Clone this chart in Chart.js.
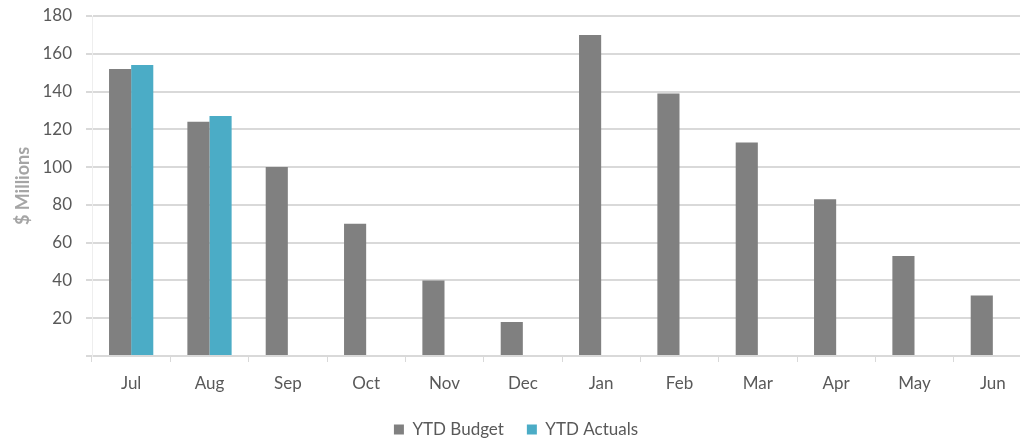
<!DOCTYPE html>
<html>
<head>
<meta charset="utf-8">
<script src="https://cdn.jsdelivr.net/npm/chart.js@4"></script>
<style>
    html, body { margin: 0; padding: 0; background: #fff; overflow: hidden; }
    #wrap { width: 1040px; height: 442px; }
</style>
</head>
<body>
<div id="wrap"><canvas id="budget-chart" width="1040" height="442"></canvas></div>
<script>
const months = ["Jul", "Aug", "Sep", "Oct", "Nov", "Dec", "Jan", "Feb", "Mar", "Apr", "May", "Jun"];
const ytdBudget = [152, 124, 100, 70, 40, 18, 170, 139, 113, 83, 53, 32];
const ytdActuals = [154, 127, null, null, null, null, null, null, null, null, null, null];
const yTicks = [0, 20, 40, 60, 80, 100, 120, 140, 160, 180];

const textGray = "#595959";
const gridGray = "#d9d9d9";
const font = "Lato, 'Open Sans', sans-serif";

const ctx = document.getElementById("budget-chart").getContext("2d");
new Chart(ctx, {
    type: "bar",
    data: {
        labels: months,
        datasets: [
            {
                label: "YTD Budget",
                data: ytdBudget,
                backgroundColor: "#808080",
            },
            {
                label: "YTD Actuals",
                data: ytdActuals,
                backgroundColor: "#4bacc6",
            },
        ],
    },
    options: {
        responsive: false,
        animation: false,
        categoryPercentage: 0.565,
        barPercentage: 1,
        layout: { padding: { top: 16, right: 8, left: 0, bottom: -6 } },
        plugins: {
            tooltip: { enabled: false },
            legend: {
                position: "bottom",
                labels: {
                    boxWidth: 10,
                    boxHeight: 10,
                    color: textGray,
                    padding: 23,
                    font: { family: font, size: 17 },
                },
            },
        },
        scales: {
            x: {
                grid: { offset: true, drawOnChartArea: false, color: gridGray, tickLength: 6 },
                border: { color: gridGray },
                ticks: { color: textGray, padding: 11, font: { family: font, size: 17 } },
                afterFit: (scale) => { scale.height = 42; },
            },
            y: {
                min: yTicks[0],
                max: yTicks[yTicks.length - 1],
                afterBuildTicks: (scale) => { scale.ticks = yTicks.map((v) => ({ value: v })); },
                grid: { color: gridGray, tickLength: 6, lineWidth: 2 },
                border: { color: "#eeeeee" },
                ticks: {
                    color: textGray,
                    padding: 14,
                    font: { family: font, size: 17 },
                    callback: (v) => (v === 0 ? "" : v),
                },
                title: {
                    display: true,
                    text: "$ Millions",
                    color: "#a5a5a5",
                    padding: { top: 12, bottom: 0 },
                    font: { family: font, size: 18, weight: "bold" },
                },
                afterFit: (scale) => {
                    scale.width = 92;
                    scale.paddingTop = 0;
                    scale.paddingBottom = 0;
                },
            },
        },
    },
});
</script>
</body>
</html>
